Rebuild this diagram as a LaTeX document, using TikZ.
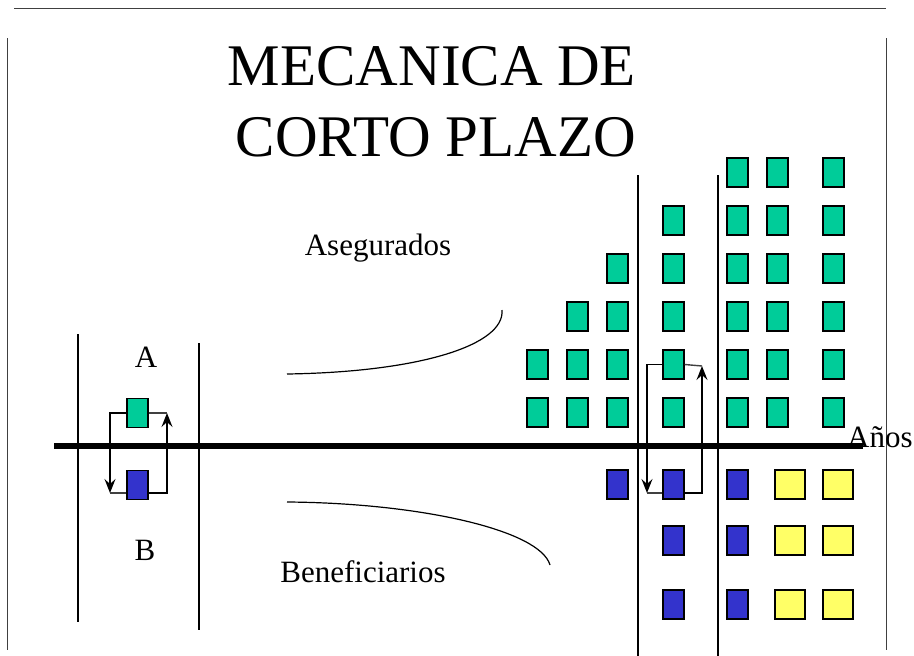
\documentclass[tikz,border=0pt]{standalone}
\usepackage{fontspec}
\setmainfont{Liberation Serif}
\usetikzlibrary{arrows.meta}
\definecolor{gfill}{HTML}{00CC99}
\definecolor{bfill}{HTML}{3333CC}
\definecolor{yfill}{HTML}{FFFF66}
\definecolor{conn}{HTML}{404040}
\tikzset{
  sq/.style={draw=black, line width=1.2pt, minimum width=21pt, minimum height=29pt, inner sep=0pt},
  gbox/.style={sq, fill=gfill},
  bbox/.style={sq, fill=bfill},
  ybox/.style={sq, fill=yfill, minimum width=30pt},
  frameline/.style={draw=black!75, line width=1pt},
  divline/.style={draw=black, line width=1.2pt},
  link/.style={draw=conn, line width=1.4pt},
  linkarrow/.style={draw=black, line width=1.4pt, -{Stealth[length=14pt,width=11pt,inset=5pt]}},
  lbl/.style={font=\fontsize{31}{36}\selectfont, inner sep=0pt, anchor=base},
  ttl/.style={font=\fontsize{59}{70}\selectfont, inner sep=0pt, anchor=base}
}
\begin{document}
\begin{tikzpicture}[x=1pt, y=-1pt]
\useasboundingbox (0,0) rectangle (914,656);
% frame
\coordinate (ft1) at (14,8); \coordinate (ft2) at (886,8);
\coordinate (fl1) at (7,38); \coordinate (fl2) at (7,650);
\coordinate (fr1) at (886,38); \coordinate (fr2) at (886,650);
\draw[frameline] (ft1) -- (ft2);
\draw[frameline] (fl1) -- (fl2);
\draw[frameline] (fr1) -- (fr2);
% title
\node[ttl] (t1) at (432,85) {MECANICA DE};
\node[ttl] (t2) at (436,156) {CORTO PLAZO};
% divider lines
\coordinate (d1a) at (78,334); \coordinate (d1b) at (78,622);
\coordinate (d2a) at (199,343); \coordinate (d2b) at (199,630);
\coordinate (d3a) at (638,175); \coordinate (d3b) at (638,656);
\coordinate (d4a) at (718,175); \coordinate (d4b) at (718,656);
\draw[divline] (d1a) -- (d1b);
\draw[divline] (d2a) -- (d2b);
\draw[divline] (d3a) -- (d3b);
\draw[divline] (d4a) -- (d4b);
% axis
\coordinate (ax1) at (54,446); \coordinate (ax2) at (863,446);
\draw[line width=6pt] (ax1) -- (ax2);
\node[lbl, anchor=base west] (anos) at (847,447) {Años};
% labels
\node[lbl] (la) at (146,367) {A};
\node[lbl] (lb) at (145,560) {B};
\node[lbl] (ase) at (378,255) {Asegurados};
\node[lbl] (ben) at (363,582) {Beneficiarios};
% curves
\coordinate (c1s) at (287,374); \coordinate (c1e) at (502,310);
\draw[line width=1.2pt] (c1s) .. controls (420,372) and (505,345) .. (c1e);
\coordinate (c2s) at (287,502); \coordinate (c2e) at (550,565);
\draw[line width=1.2pt] (c2s) .. controls (420,503) and (540,530) .. (c2e);
% left pair
\node[gbox] (gL) at (137.5,413) {};
\node[bbox] (bL) at (137.5,485) {};
\coordinate (lc1) at (110,493);
\coordinate (lc2) at (167,413);
\draw[linkarrow] (gL.west) -| (lc1);
\draw[link] (lc1) -- (lc1 -| bL.west);
\draw[linkarrow] (lc1 -| bL.east) -| (lc2);
\draw[link] (lc2) -- (gL.east);
% green columns
\foreach \x/\n [count=\c] in {537.5/2, 577.5/3, 617.5/4, 673.5/5, 737.5/6, 777.5/6, 833.5/6} {
  \foreach \r in {1,...,\n} {
    \node[gbox] (g\c-\r) at (\x, {412.5-48*(\r-1)}) {};
  }
}
% blue and yellow
\node[bbox] (b3-1) at (617.5,484.5) {};
\foreach \y [count=\r] in {484.5, 540.5, 604.5} {
  \node[bbox] (b4-\r) at (673.5,\y) {};
  \node[bbox] (b5-\r) at (737.5,\y) {};
  \node[ybox] (y6-\r) at (790,\y) {};
  \node[ybox] (y7-\r) at (838,\y) {};
}
% middle connectors
\coordinate (mc1) at (647,493);
\coordinate (mc2) at (702,366);
\draw[linkarrow] (g4-2.west) -| (mc1);
\draw[link] (mc1) -- (mc1 -| b4-1.west);
\draw[linkarrow] (mc1 -| b4-1.east) -| (mc2);
\draw[link] (mc2) -- (g4-2.east);
\end{tikzpicture}
\end{document}
